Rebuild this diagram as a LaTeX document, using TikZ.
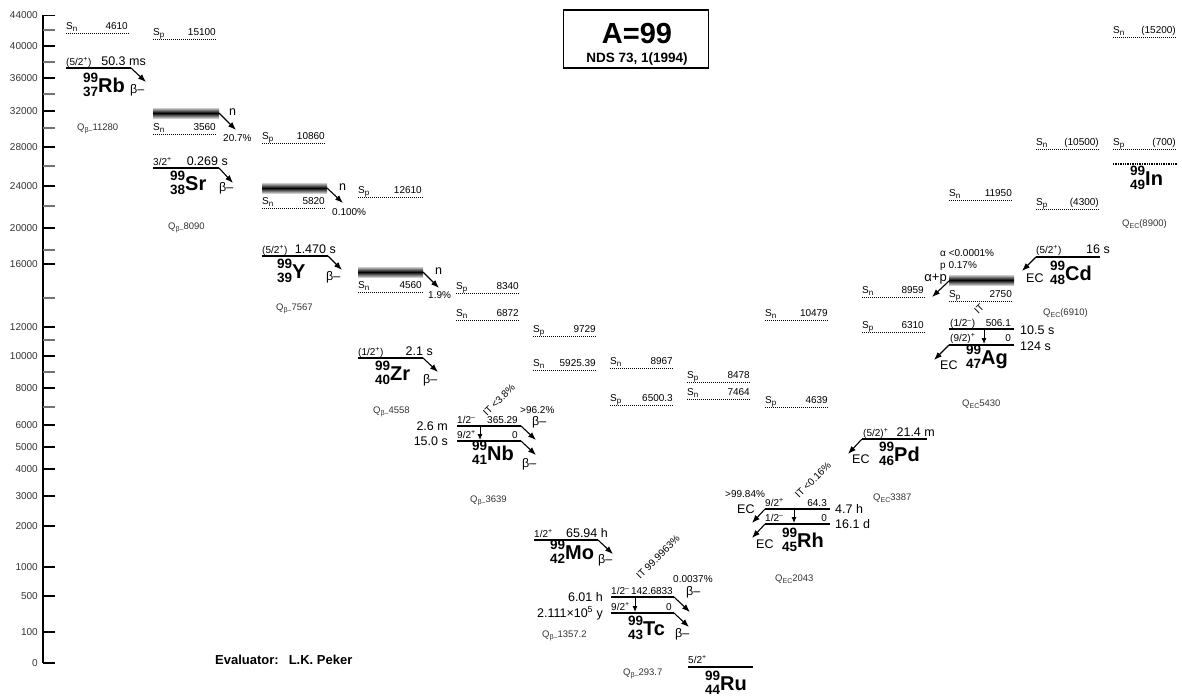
\documentclass[tikz,border=0pt]{standalone}
\usepackage{fontspec}
\setmainfont{Liberation Sans}
\usetikzlibrary{arrows.meta,positioning}
\newcommand{\fs}[1]{\fontsize{#1}{#1}\selectfont}
\newcommand{\lowr}[1]{\raisebox{-2.5pt}{\fs{8}#1}}
\newcommand{\qsub}[1]{\raisebox{-2.5pt}{\fs{7}#1}}
\newcommand{\nuclide}[3]{{\bfseries\fontsize{13.5}{13.5}\selectfont
  \rlap{\raisebox{10pt}{#1}}\raisebox{-4pt}{#2}\fs{20}#3}}
\tikzset{
  >={Latex[length=8pt,width=6pt]},
  % skala
  axline/.style={line width=1.2pt},
  axtick/.style={line width=1.2pt},
  axlbl/.style={inner sep=0pt,anchor=east,font=\fs{10},text=black!80},
  % nivåer
  lvline/.style={line width=1.8pt},
  sepline/.style={line width=0.8pt,dash pattern=on 1pt off 1pt},
  gsline/.style={line width=1.6pt,dash pattern=on 1.4pt off 1pt},
  nband/.style={top color=black!20,bottom color=black!20,middle color=black},
  decayarr/.style={->,line width=1.1pt},
  itarr/.style={-{Latex[length=6pt,width=5pt]},line width=1pt},
  % texter
  sml/.style={inner sep=0pt,anchor=base west,font=\fs{10}},
  smr/.style={inner sep=0pt,anchor=base east,font=\fs{10}},
  hlw/.style={inner sep=0pt,anchor=base west,font=\fs{12.5}},
  hle/.style={inner sep=0pt,anchor=base east,font=\fs{12.5}},
  qval/.style={inner sep=0pt,anchor=base west,font=\fs{9.5},text=black!80},
  nucl/.style={inner sep=0pt,anchor=base west},
  rotit/.style={inner sep=0pt,font=\fs{10},rotate=45},
  titlebox/.style={draw,line width=1.2pt,minimum width=145pt,minimum height=58pt,
    inner sep=0pt},
}
\begin{document}
\begin{tikzpicture}[x=1pt,y=-1pt]
\useasboundingbox (0,0) rectangle (1182,697);
% skala
\draw[axline] (43,15) -- (43,663);
\foreach \v/\y in {44000/15.5,40000/46,36000/78,32000/111,28000/147,24000/186,
  20000/228,16000/264,12000/327,10000/356,8000/388,6000/425,5000/447,4000/469,
  3000/496,2000/526,1000/567,500/596,100/632,0/663}{
  \draw[axtick] (43,\y) -- (55,\y);
  \node[axlbl] (ax\v) at (38,\y) {\v};
}
\foreach \y in {30,62,94,128,166,206,250,298,340,372,407}
  \draw[axtick,black!55] (43,\y) -- (55,\y);

\node[titlebox] (title) at (636,39) {};
\node[inner sep=0pt,anchor=base,font=\bfseries\fs{29}] (titleA) at (637,43) {A=99};
\node[inner sep=0pt,anchor=base,font=\bfseries\fs{13.5}] (titleR) at (637,62) {NDS 73, 1(1994)};
\node[inner sep=0pt,anchor=base west,font=\bfseries\fs{13}] (evaluator) at (215,664)
  {Evaluator:\hspace{10pt}L.K. Peker};

% 99Rb
\draw[sepline] (66,33) -- (130,33);
\node[sml] (rbSn) at (66,29) {S\lowr{n}};
\node[smr] (rbSnv) at (128,29) {4610};
\coordinate (rbl) at (66,68);
\coordinate (rbr) at (131,68);
\coordinate (rbt) at (146,82);
\draw[lvline] (rbl) -- (rbr);
\node[sml] (rbjp) at (66,65) {(5/2\textsuperscript{+})};
\node[hle] (rbhl) at (146,65) {50.3 ms};
\draw[decayarr] (rbr) -- (rbt);
\node[hlw] (rbbeta) at (130,93) {β–};
\node[nucl] (rb) at (83,92) {\nuclide{99}{37}{Rb}};
\node[qval] (rbq) at (77,130) {Q\qsub{β–}11280};

% 99Sr
\draw[sepline] (153,39) -- (217,39);
\node[sml] (srSp) at (153,35) {S\lowr{p}};
\node[smr] (srSpv) at (216,35) {15100};
\shade[nband] (153,108) rectangle (219,118);
\coordinate (srn) at (219,113);
\coordinate (srnt) at (236,130);
\draw[decayarr] (srn) -- (srnt);
\node[hlw] (srnn) at (229,115) {n};
\node[sml] (srnp) at (223,141) {20.7\%};
\draw[sepline] (153,134) -- (217,134);
\node[sml] (srSn) at (153,130) {S\lowr{n}};
\node[smr] (srSnv) at (216,130) {3560};
\coordinate (srl) at (153,168);
\coordinate (srr) at (219,168);
\coordinate (srt) at (233,183);
\draw[lvline] (srl) -- (srr);
\node[sml] (srjp) at (153,165) {3/2\textsuperscript{+}};
\node[hle] (srhl) at (228,165) {0.269 s};
\draw[decayarr] (srr) -- (srt);
\node[hlw] (srbeta) at (219,191) {β–};
\node[nucl] (sr) at (170,190) {\nuclide{99}{38}{Sr}};
\node[qval] (srq) at (168,229) {Q\qsub{β–}8090};

% 99Y
\draw[sepline] (262,143) -- (326,143);
\node[sml] (ySp) at (262,139) {S\lowr{p}};
\node[smr] (ySpv) at (325,139) {10860};
\shade[nband] (262,183) rectangle (327,193);
\coordinate (yn) at (327,188);
\coordinate (ynt) at (343,203);
\draw[decayarr] (yn) -- (ynt);
\node[hlw] (ynn) at (339,190) {n};
\node[sml] (ynp) at (332,215) {0.100\%};
\draw[sepline] (262,208) -- (326,208);
\node[sml] (ySn) at (262,204) {S\lowr{n}};
\node[smr] (ySnv) at (325,204) {5820};
\coordinate (yl) at (262,256);
\coordinate (yr) at (328,256);
\coordinate (yt) at (342,270);
\draw[lvline] (yl) -- (yr);
\node[sml] (yjp) at (262,253) {(5/2\textsuperscript{+})};
\node[hle] (yhl) at (336,253) {1.470 s};
\draw[decayarr] (yr) -- (yt);
\node[hlw] (ybeta) at (326,280) {β–};
\node[nucl] (y) at (277,278) {\nuclide{99}{39}{Y}};
\node[qval] (yq) at (276,310) {Q\qsub{β–}7567};

% 99Zr
\draw[sepline] (358,197) -- (423,197);
\node[sml] (zrSp) at (358,193) {S\lowr{p}};
\node[smr] (zrSpv) at (422,193) {12610};
\shade[nband] (358,267) rectangle (423,277);
\coordinate (zrn) at (423,272);
\coordinate (zrnt) at (439,288);
\draw[decayarr] (zrn) -- (zrnt);
\node[hlw] (zrnn) at (435,274) {n};
\node[sml] (zrnp) at (428,298) {1.9\%};
\draw[sepline] (358,292) -- (423,292);
\node[sml] (zrSn) at (358,288) {S\lowr{n}};
\node[smr] (zrSnv) at (422,288) {4560};
\coordinate (zrl) at (358,358);
\coordinate (zrr) at (423,358);
\coordinate (zrt) at (438,372);
\draw[lvline] (zrl) -- (zrr);
\node[sml] (zrjp) at (358,355) {(1/2\textsuperscript{+})};
\node[hle] (zrhl) at (433,355) {2.1 s};
\draw[decayarr] (zrr) -- (zrt);
\node[hlw] (zrbeta) at (423,383) {β–};
\node[nucl] (zr) at (375,380) {\nuclide{99}{40}{Zr}};
\node[qval] (zrq) at (373,413) {Q\qsub{β–}4558};

% 99Nb
\draw[sepline] (456,293) -- (520,293);
\node[sml] (nbSp) at (456,289) {S\lowr{p}};
\node[smr] (nbSpv) at (519,289) {8340};
\draw[sepline] (456,320) -- (520,320);
\node[sml] (nbSn) at (456,316) {S\lowr{n}};
\node[smr] (nbSnv) at (519,316) {6872};
\coordinate (nbml) at (457,426);
\coordinate (nbmr) at (521,426);
\coordinate (nbgl) at (457,441);
\coordinate (nbgr) at (521,441);
\draw[lvline] (nbml) -- (nbmr);
\draw[lvline] (nbgl) -- (nbgr);
\node[sml] (nbmjp) at (457,423) {1/2\textsuperscript{–}};
\node[smr] (nbme) at (518,423) {365.29};
\node[sml] (nbgjp) at (457,438) {9/2\textsuperscript{+}};
\node[smr] (nbge) at (518,438) {0};
\node[hle] (nbmhl) at (448,430) {2.6 m};
\node[hle] (nbghl) at (448,445) {15.0 s};
\coordinate (nbit1) at (480,427);
\coordinate (nbit2) at (480,440);
\draw[itarr] (nbit1) -- (nbit2);
\node[rotit] (nbit) at (499,400) {IT <3.8\%};
\coordinate (nbmt) at (536,440);
\coordinate (nbgt) at (536,455);
\draw[decayarr] (nbmr) -- (nbmt);
\draw[decayarr] (nbgr) -- (nbgt);
\node[sml] (nbmp) at (520,413) {>96.2\%};
\node[hlw] (nbmbeta) at (532,425) {β–};
\node[hlw] (nbgbeta) at (522,467) {β–};
\node[nucl] (nb) at (472,460) {\nuclide{99}{41}{Nb}};
\node[qval] (nbq) at (470,502) {Q\qsub{β–}3639};

% 99Mo
\draw[sepline] (533,336) -- (597,336);
\node[sml] (moSp) at (533,332) {S\lowr{p}};
\node[smr] (moSpv) at (596,332) {9729};
\draw[sepline] (533,370) -- (597,370);
\node[sml] (moSn) at (533,366) {S\lowr{n}};
\node[smr] (moSnv) at (596,366) {5925.39};
\coordinate (mol) at (534,540);
\coordinate (mor) at (598,540);
\coordinate (mot) at (613,554);
\draw[lvline] (mol) -- (mor);
\node[sml] (mojp) at (534,537) {1/2\textsuperscript{+}};
\node[hle] (mohl) at (608,537) {65.94 h};
\draw[decayarr] (mor) -- (mot);
\node[hlw] (mobeta) at (598,563) {β–};
\node[nucl] (mo) at (550,559) {\nuclide{99}{42}{Mo}};
\node[qval] (moq) at (542,637) {Q\qsub{β–}1357.2};

% 99Tc
\draw[sepline] (610,368) -- (674,368);
\node[sml] (tcSn) at (610,364) {S\lowr{n}};
\node[smr] (tcSnv) at (673,364) {8967};
\draw[sepline] (610,405) -- (674,405);
\node[sml] (tcSp) at (610,401) {S\lowr{p}};
\node[smr] (tcSpv) at (673,401) {6500.3};
\coordinate (tcml) at (611,597);
\coordinate (tcmr) at (674,597);
\coordinate (tcgl) at (611,613);
\coordinate (tcgr) at (674,613);
\draw[lvline] (tcml) -- (tcmr);
\draw[lvline] (tcgl) -- (tcgr);
\node[sml] (tcmjp) at (611,594) {1/2\textsuperscript{–}};
\node[smr] (tcme) at (673,594) {142.6833};
\node[sml] (tcgjp) at (611,610) {9/2\textsuperscript{+}};
\node[smr] (tcge) at (672,610) {0};
\node[hle] (tcmhl) at (603,601) {6.01 h};
\node[hle] (tcghl) at (603,617) {2.111×10\textsuperscript{5} y};
\coordinate (tcit1) at (635,598);
\coordinate (tcit2) at (635,612);
\draw[itarr] (tcit1) -- (tcit2);
\node[rotit] (tcit) at (658,557) {IT 99.9963\%};
\coordinate (tcmt) at (690,612);
\coordinate (tcgt) at (689,627);
\draw[decayarr] (tcmr) -- (tcmt);
\draw[decayarr] (tcgr) -- (tcgt);
\node[sml] (tcmp) at (673,582) {0.0037\%};
\node[hlw] (tcmbeta) at (686,595) {β–};
\node[hlw] (tcgbeta) at (675,637) {β–};
\node[nucl] (tc) at (628,635) {\nuclide{99}{43}{Tc}};
\node[qval] (tcq) at (623,675) {Q\qsub{β–}293.7};

% 99Ru
\draw[sepline] (687,382) -- (751,382);
\node[sml] (ruSp) at (687,378) {S\lowr{p}};
\node[smr] (ruSpv) at (750,378) {8478};
\draw[sepline] (687,399) -- (751,399);
\node[sml] (ruSn) at (687,395) {S\lowr{n}};
\node[smr] (ruSnv) at (750,395) {7464};
\coordinate (rul) at (688,667);
\coordinate (rur) at (753,667);
\draw[lvline] (rul) -- (rur);
\node[sml] (rujp) at (688,663) {5/2\textsuperscript{+}};
\node[nucl] (ru) at (705,690) {\nuclide{99}{44}{Ru}};

% 99Rh
\draw[sepline] (765,320) -- (829,320);
\node[sml] (rhSn) at (765,316) {S\lowr{n}};
\node[smr] (rhSnv) at (828,316) {10479};
\draw[sepline] (765,407) -- (829,407);
\node[sml] (rhSp) at (765,403) {S\lowr{p}};
\node[smr] (rhSpv) at (828,403) {4639};
\coordinate (rhml) at (765,509);
\coordinate (rhmr) at (830,509);
\coordinate (rhgl) at (765,524);
\coordinate (rhgr) at (830,524);
\draw[lvline] (rhml) -- (rhmr);
\draw[lvline] (rhgl) -- (rhgr);
\node[sml] (rhmjp) at (765,506) {9/2\textsuperscript{+}};
\node[smr] (rhme) at (827,506) {64.3};
\node[sml] (rhgjp) at (765,521) {1/2\textsuperscript{–}};
\node[smr] (rhge) at (827,521) {0};
\node[hlw] (rhmhl) at (835,513) {4.7 h};
\node[hlw] (rhghl) at (835,528) {16.1 d};
\coordinate (rhit1) at (794,510);
\coordinate (rhit2) at (794,523);
\draw[itarr] (rhit1) -- (rhit2);
\node[rotit] (rhit) at (813,480) {IT <0.16\%};
\coordinate (rhmt) at (752,523);
\coordinate (rhgt) at (752,538);
\draw[decayarr] (rhml) -- (rhmt);
\draw[decayarr] (rhgl) -- (rhgt);
\node[sml] (rhmp) at (725,497) {>99.84\%};
\node[hlw] (rhmec) at (737,513) {EC};
\node[hlw] (rhgec) at (756,548) {EC};
\node[nucl] (rh) at (782,547) {\nuclide{99}{45}{Rh}};
\node[qval] (rhq) at (775,581) {Q\qsub{EC}2043};

% 99Pd
\draw[sepline] (862,297) -- (925,297);
\node[sml] (pdSn) at (862,293) {S\lowr{n}};
\node[smr] (pdSnv) at (924,293) {8959};
\draw[sepline] (862,332) -- (925,332);
\node[sml] (pdSp) at (862,328) {S\lowr{p}};
\node[smr] (pdSpv) at (924,328) {6310};
\coordinate (pdl) at (862,439);
\coordinate (pdr) at (927,439);
\coordinate (pdt) at (848,454);
\draw[lvline] (pdl) -- (pdr);
\node[sml] (pdjp) at (863,436) {(5/2)\textsuperscript{+}};
\node[hle] (pdhl) at (935,436) {21.4 m};
\draw[decayarr] (pdl) -- (pdt);
\node[hlw] (pdec) at (852,463) {EC};
\node[nucl] (pd) at (879,461) {\nuclide{99}{46}{Pd}};
\node[qval] (pdq) at (873,500) {Q\qsub{EC}3387};

% 99Ag
\draw[sepline] (949,200) -- (1013,200);
\node[sml] (agSn) at (949,196) {S\lowr{n}};
\node[smr] (agSnv) at (1012,196) {11950};
\node[sml] (agal) at (940,256) {α <0.0001\%};
\node[sml] (agpr) at (940,268) {p 0.17\%};
\shade[nband] (949,275) rectangle (1014,285);
\coordinate (agb) at (949,281);
\coordinate (agbt) at (932,297);
\draw[decayarr] (agb) -- (agbt);
\node[inner sep=0pt,anchor=base east,font=\fs{13}] (agap) at (947,281) {α+p};
\draw[sepline] (949,301) -- (1013,301);
\node[sml] (agSp) at (949,297) {S\lowr{p}};
\node[smr] (agSpv) at (1012,297) {2750};
\coordinate (agml) at (949,329);
\coordinate (agmr) at (1014,329);
\coordinate (aggl) at (949,345);
\coordinate (aggr) at (1014,345);
\draw[lvline] (agml) -- (agmr);
\draw[lvline] (aggl) -- (aggr);
\node[sml] (agmjp) at (950,326) {(1/2\textsuperscript{–})};
\node[smr] (agme) at (1011,326) {506.1};
\node[sml] (aggjp) at (950,341) {(9/2)\textsuperscript{+}};
\node[smr] (agge) at (1011,341) {0};
\node[hlw] (agmhl) at (1020,334) {10.5 s};
\node[hlw] (agghl) at (1020,350) {124 s};
\coordinate (agit1) at (984,330);
\coordinate (agit2) at (984,344);
\draw[itarr] (agit1) -- (agit2);
\node[rotit] (agit) at (979,309) {IT};
\coordinate (aggt) at (934,360);
\draw[decayarr] (aggl) -- (aggt);
\node[hlw] (agec) at (940,369) {EC};
\node[nucl] (ag) at (966,364) {\nuclide{99}{47}{Ag}};
\node[qval] (agq) at (962,406) {Q\qsub{EC}5430};

% 99Cd
\draw[sepline] (1036,149) -- (1100,149);
\node[sml] (cdSn) at (1036,145) {S\lowr{n}};
\node[smr] (cdSnv) at (1099,145) {(10500)};
\draw[sepline] (1036,209) -- (1100,209);
\node[sml] (cdSp) at (1036,205) {S\lowr{p}};
\node[smr] (cdSpv) at (1099,205) {(4300)};
\coordinate (cdl) at (1036,257);
\coordinate (cdr) at (1100,257);
\coordinate (cdt) at (1022,271);
\draw[lvline] (cdl) -- (cdr);
\node[sml] (cdjp) at (1036,253) {(5/2\textsuperscript{+})};
\node[hle] (cdhl) at (1110,253) {16 s};
\draw[decayarr] (cdl) -- (cdt);
\node[hlw] (cdec) at (1026,282) {EC};
\node[nucl] (cd) at (1050,280) {\nuclide{99}{48}{Cd}};
\node[qval] (cdq) at (1043,315) {Q\qsub{EC}(6910)};

% 99In
\draw[sepline] (1113,37) -- (1177,37);
\node[sml] (inSn) at (1113,33) {S\lowr{n}};
\node[smr] (inSnv) at (1176,33) {(15200)};
\draw[sepline] (1113,149) -- (1177,149);
\node[sml] (inSp) at (1113,145) {S\lowr{p}};
\node[smr] (inSpv) at (1176,145) {(700)};
\draw[gsline] (1113,164) -- (1177,164);
\node[nucl] (in) at (1130,185) {\nuclide{99}{49}{In}};
\node[qval] (inq) at (1122,226) {Q\qsub{EC}(8900)};
\end{tikzpicture}
\end{document}
